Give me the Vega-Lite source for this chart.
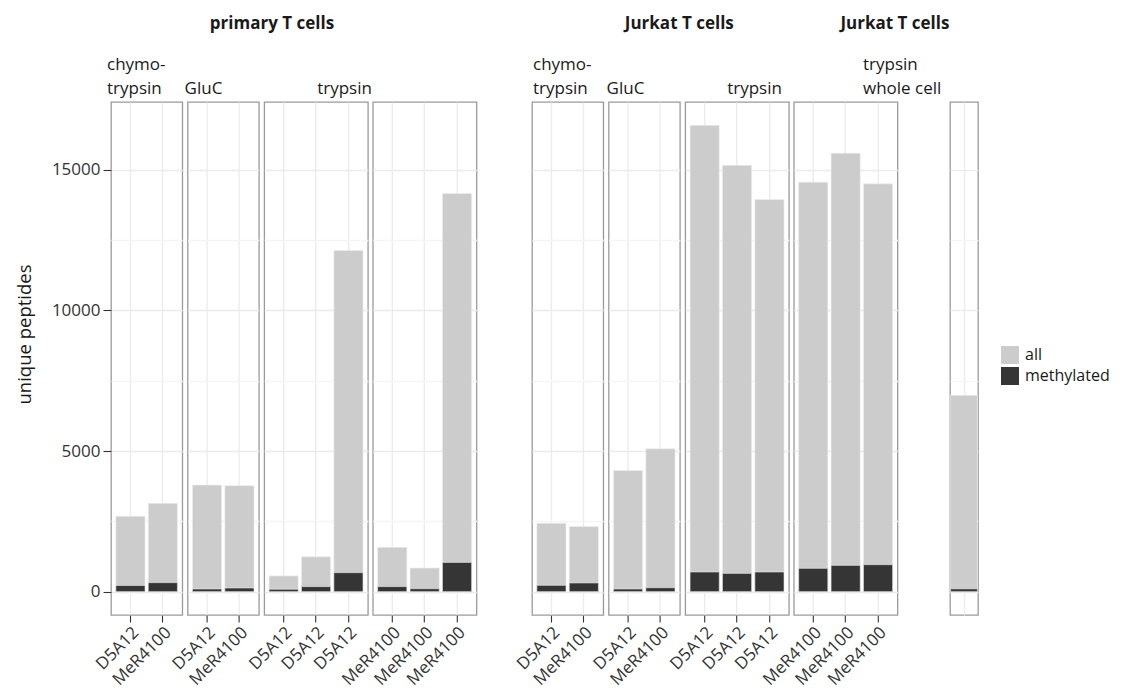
{
  "$schema": "https://vega.github.io/schema/vega-lite/v6.json",
  "padding": {"left": 14, "top": 14, "right": 5, "bottom": 5},
  "background": "white",
  "data": {"values": [
    {"panel": "P_chymo", "sample": "D5A12", "type": "all", "count": 2680},
    {"panel": "P_chymo", "sample": "D5A12", "type": "methylated", "count": 220},
    {"panel": "P_chymo", "sample": "MeR4100", "type": "all", "count": 3140},
    {"panel": "P_chymo", "sample": "MeR4100", "type": "methylated", "count": 320},
    {"panel": "P_gluc", "sample": "D5A12", "type": "all", "count": 3790},
    {"panel": "P_gluc", "sample": "D5A12", "type": "methylated", "count": 95},
    {"panel": "P_gluc", "sample": "MeR4100", "type": "all", "count": 3770},
    {"panel": "P_gluc", "sample": "MeR4100", "type": "methylated", "count": 130},
    {"panel": "P_tryD", "sample": "D5A12 1", "type": "all", "count": 560},
    {"panel": "P_tryD", "sample": "D5A12 1", "type": "methylated", "count": 85},
    {"panel": "P_tryD", "sample": "D5A12 2", "type": "all", "count": 1240},
    {"panel": "P_tryD", "sample": "D5A12 2", "type": "methylated", "count": 180},
    {"panel": "P_tryD", "sample": "D5A12 3", "type": "all", "count": 12130},
    {"panel": "P_tryD", "sample": "D5A12 3", "type": "methylated", "count": 675},
    {"panel": "P_tryM", "sample": "MeR4100 1", "type": "all", "count": 1575},
    {"panel": "P_tryM", "sample": "MeR4100 1", "type": "methylated", "count": 180},
    {"panel": "P_tryM", "sample": "MeR4100 2", "type": "all", "count": 840},
    {"panel": "P_tryM", "sample": "MeR4100 2", "type": "methylated", "count": 105},
    {"panel": "P_tryM", "sample": "MeR4100 3", "type": "all", "count": 14155},
    {"panel": "P_tryM", "sample": "MeR4100 3", "type": "methylated", "count": 1040},
    {"panel": "J_chymo", "sample": "D5A12", "type": "all", "count": 2430},
    {"panel": "J_chymo", "sample": "D5A12", "type": "methylated", "count": 225},
    {"panel": "J_chymo", "sample": "MeR4100", "type": "all", "count": 2320},
    {"panel": "J_chymo", "sample": "MeR4100", "type": "methylated", "count": 310},
    {"panel": "J_gluc", "sample": "D5A12", "type": "all", "count": 4310},
    {"panel": "J_gluc", "sample": "D5A12", "type": "methylated", "count": 95},
    {"panel": "J_gluc", "sample": "MeR4100", "type": "all", "count": 5080},
    {"panel": "J_gluc", "sample": "MeR4100", "type": "methylated", "count": 140},
    {"panel": "J_tryD", "sample": "D5A12 1", "type": "all", "count": 16580},
    {"panel": "J_tryD", "sample": "D5A12 1", "type": "methylated", "count": 700},
    {"panel": "J_tryD", "sample": "D5A12 2", "type": "all", "count": 15160},
    {"panel": "J_tryD", "sample": "D5A12 2", "type": "methylated", "count": 650},
    {"panel": "J_tryD", "sample": "D5A12 3", "type": "all", "count": 13940},
    {"panel": "J_tryD", "sample": "D5A12 3", "type": "methylated", "count": 700},
    {"panel": "J_tryM", "sample": "MeR4100 1", "type": "all", "count": 14560},
    {"panel": "J_tryM", "sample": "MeR4100 1", "type": "methylated", "count": 830},
    {"panel": "J_tryM", "sample": "MeR4100 2", "type": "all", "count": 15590},
    {"panel": "J_tryM", "sample": "MeR4100 2", "type": "methylated", "count": 935},
    {"panel": "J_tryM", "sample": "MeR4100 3", "type": "all", "count": 14500},
    {"panel": "J_tryM", "sample": "MeR4100 3", "type": "methylated", "count": 960},
    {"panel": "W", "sample": "whole cell", "type": "all", "count": 6980},
    {"panel": "W", "sample": "whole cell", "type": "methylated", "count": 100}
  ]},
  "hconcat": [
    {
      "title": {"text": ["chymo-", "trypsin"], "dx": -4},
      "width": {"step": 32.4}, "height": 513,
      "transform": [{"filter": "datum.panel == 'P_chymo'"}],
      "mark": {"type": "bar", "stroke": "#eeeeee", "strokeWidth": 0.6},
      "encoding": {
        "x": {"field": "sample", "type": "nominal", "sort": null, "scale": {"paddingInner": 0.1, "paddingOuter": 0.15}, "axis": {"labelExpr": "split(datum.value, ' ')[0]"}},
        "y": {"field": "count", "type": "quantitative", "stack": null, "scale": {"domain": [-830, 17410], "nice": false, "zero": false},
          "axis": {"title": "unique peptides", "values": [0, 2500, 5000, 7500, 10000, 12500, 15000], "format": "d",
            "labelExpr": "datum.value % 5000 === 0 ? datum.label : ''",
            "tickOpacity": {"condition": {"test": "datum.value % 5000 === 0", "value": 1}, "value": 0},
            "ticks": true, "labels": true, "tickSize": 8, "tickColor": "#333333", "tickWidth": 1.1,
            "labelFontSize": 17, "labelColor": "#333333", "labelPadding": 3,
            "titleFontSize": 18.5, "titleFontWeight": "normal", "titleColor": "#1a1a1a", "titlePadding": 17, "titleY": 232,
            "gridColor": {"condition": {"test": "datum.value % 5000 === 0", "value": "#ebebeb"}, "value": "#f5f5f5"}}},
        "y2": {"datum": 0},
        "color": {"field": "type", "type": "nominal", "scale": {"domain": ["all", "methylated"], "range": ["#cccccc", "#353535"]}, "legend": {"title": null}},
        "order": {"field": "type", "sort": "ascending"}
      }
    },
    {
      "title": {"text": "GluC", "dx": -3},
      "width": {"step": 32.4}, "height": 513,
      "transform": [{"filter": "datum.panel == 'P_gluc'"}],
      "mark": {"type": "bar", "stroke": "#eeeeee", "strokeWidth": 0.6},
      "encoding": {
        "x": {"field": "sample", "type": "nominal", "sort": null, "scale": {"paddingInner": 0.1, "paddingOuter": 0.15}, "axis": {"labelExpr": "split(datum.value, ' ')[0]"}},
        "y": {"field": "count", "type": "quantitative", "stack": null, "scale": {"domain": [-830, 17410], "nice": false, "zero": false},
          "axis": {"title": null, "values": [0, 2500, 5000, 7500, 10000, 12500, 15000], "labels": false, "ticks": false,
            "gridColor": {"condition": {"test": "datum.value % 5000 === 0", "value": "#ebebeb"}, "value": "#f5f5f5"}}},
        "y2": {"datum": 0},
        "color": {"field": "type", "type": "nominal", "scale": {"domain": ["all", "methylated"], "range": ["#cccccc", "#353535"]}, "legend": {"title": null}},
        "order": {"field": "type", "sort": "ascending"}
      }
    },
    {
      "title": {"text": "trypsin", "dx": 53},
      "width": {"step": 32.4}, "height": 513,
      "transform": [{"filter": "datum.panel == 'P_tryD'"}],
      "mark": {"type": "bar", "stroke": "#eeeeee", "strokeWidth": 0.6},
      "encoding": {
        "x": {"field": "sample", "type": "nominal", "sort": null, "scale": {"paddingInner": 0.1, "paddingOuter": 0.15}, "axis": {"labelExpr": "split(datum.value, ' ')[0]"}},
        "y": {"field": "count", "type": "quantitative", "stack": null, "scale": {"domain": [-830, 17410], "nice": false, "zero": false},
          "axis": {"title": null, "values": [0, 2500, 5000, 7500, 10000, 12500, 15000], "labels": false, "ticks": false,
            "gridColor": {"condition": {"test": "datum.value % 5000 === 0", "value": "#ebebeb"}, "value": "#f5f5f5"}}},
        "y2": {"datum": 0},
        "color": {"field": "type", "type": "nominal", "scale": {"domain": ["all", "methylated"], "range": ["#cccccc", "#353535"]}, "legend": {"title": null}},
        "order": {"field": "type", "sort": "ascending"}
      }
    },
    {
      "title": {"text": "primary T cells", "fontWeight": "bold", "fontSize": 17, "dx": -163, "offset": 69},
      "width": {"step": 32.4}, "height": 513,
      "transform": [{"filter": "datum.panel == 'P_tryM'"}],
      "mark": {"type": "bar", "stroke": "#eeeeee", "strokeWidth": 0.6},
      "encoding": {
        "x": {"field": "sample", "type": "nominal", "sort": null, "scale": {"paddingInner": 0.1, "paddingOuter": 0.15}, "axis": {"labelExpr": "split(datum.value, ' ')[0]"}},
        "y": {"field": "count", "type": "quantitative", "stack": null, "scale": {"domain": [-830, 17410], "nice": false, "zero": false},
          "axis": {"title": null, "values": [0, 2500, 5000, 7500, 10000, 12500, 15000], "labels": false, "ticks": false,
            "gridColor": {"condition": {"test": "datum.value % 5000 === 0", "value": "#ebebeb"}, "value": "#f5f5f5"}}},
        "y2": {"datum": 0},
        "color": {"field": "type", "type": "nominal", "scale": {"domain": ["all", "methylated"], "range": ["#cccccc", "#353535"]}, "legend": {"title": null}},
        "order": {"field": "type", "sort": "ascending"}
      }
    },
    {
      "width": 45.8, "height": 513,
      "data": {"values": []},
      "mark": "point",
      "encoding": {},
      "view": {"stroke": null}
    },
    {
      "title": {"text": ["chymo-", "trypsin"], "dx": 1},
      "width": {"step": 32.4}, "height": 513,
      "transform": [{"filter": "datum.panel == 'J_chymo'"}],
      "mark": {"type": "bar", "stroke": "#eeeeee", "strokeWidth": 0.6},
      "encoding": {
        "x": {"field": "sample", "type": "nominal", "sort": null, "scale": {"paddingInner": 0.1, "paddingOuter": 0.15}, "axis": {"labelExpr": "split(datum.value, ' ')[0]"}},
        "y": {"field": "count", "type": "quantitative", "stack": null, "scale": {"domain": [-830, 17410], "nice": false, "zero": false},
          "axis": {"title": null, "values": [0, 2500, 5000, 7500, 10000, 12500, 15000], "labels": false, "ticks": false,
            "gridColor": {"condition": {"test": "datum.value % 5000 === 0", "value": "#ebebeb"}, "value": "#f5f5f5"}}},
        "y2": {"datum": 0},
        "color": {"field": "type", "type": "nominal", "scale": {"domain": ["all", "methylated"], "range": ["#cccccc", "#353535"]}, "legend": {"title": null}},
        "order": {"field": "type", "sort": "ascending"}
      }
    },
    {
      "title": {"text": "GluC", "dx": -2},
      "width": {"step": 32.4}, "height": 513,
      "transform": [{"filter": "datum.panel == 'J_gluc'"}],
      "mark": {"type": "bar", "stroke": "#eeeeee", "strokeWidth": 0.6},
      "encoding": {
        "x": {"field": "sample", "type": "nominal", "sort": null, "scale": {"paddingInner": 0.1, "paddingOuter": 0.15}, "axis": {"labelExpr": "split(datum.value, ' ')[0]"}},
        "y": {"field": "count", "type": "quantitative", "stack": null, "scale": {"domain": [-830, 17410], "nice": false, "zero": false},
          "axis": {"title": null, "values": [0, 2500, 5000, 7500, 10000, 12500, 15000], "labels": false, "ticks": false,
            "gridColor": {"condition": {"test": "datum.value % 5000 === 0", "value": "#ebebeb"}, "value": "#f5f5f5"}}},
        "y2": {"datum": 0},
        "color": {"field": "type", "type": "nominal", "scale": {"domain": ["all", "methylated"], "range": ["#cccccc", "#353535"]}, "legend": {"title": null}},
        "order": {"field": "type", "sort": "ascending"}
      }
    },
    {
      "title": {"text": "trypsin", "dx": 42},
      "width": {"step": 32.4}, "height": 513,
      "transform": [{"filter": "datum.panel == 'J_tryD'"}],
      "mark": {"type": "bar", "stroke": "#eeeeee", "strokeWidth": 0.6},
      "encoding": {
        "x": {"field": "sample", "type": "nominal", "sort": null, "scale": {"paddingInner": 0.1, "paddingOuter": 0.15}, "axis": {"labelExpr": "split(datum.value, ' ')[0]"}},
        "y": {"field": "count", "type": "quantitative", "stack": null, "scale": {"domain": [-830, 17410], "nice": false, "zero": false},
          "axis": {"title": null, "values": [0, 2500, 5000, 7500, 10000, 12500, 15000], "labels": false, "ticks": false,
            "gridColor": {"condition": {"test": "datum.value % 5000 === 0", "value": "#ebebeb"}, "value": "#f5f5f5"}}},
        "y2": {"datum": 0},
        "color": {"field": "type", "type": "nominal", "scale": {"domain": ["all", "methylated"], "range": ["#cccccc", "#353535"]}, "legend": {"title": null}},
        "order": {"field": "type", "sort": "ascending"}
      }
    },
    {
      "title": {"text": "Jurkat T cells", "fontWeight": "bold", "fontSize": 17, "dx": -169, "offset": 69},
      "width": {"step": 32.4}, "height": 513,
      "transform": [{"filter": "datum.panel == 'J_tryM'"}],
      "mark": {"type": "bar", "stroke": "#eeeeee", "strokeWidth": 0.6},
      "encoding": {
        "x": {"field": "sample", "type": "nominal", "sort": null, "scale": {"paddingInner": 0.1, "paddingOuter": 0.15}, "axis": {"labelExpr": "split(datum.value, ' ')[0]"}},
        "y": {"field": "count", "type": "quantitative", "stack": null, "scale": {"domain": [-830, 17410], "nice": false, "zero": false},
          "axis": {"title": null, "values": [0, 2500, 5000, 7500, 10000, 12500, 15000], "labels": false, "ticks": false,
            "gridColor": {"condition": {"test": "datum.value % 5000 === 0", "value": "#ebebeb"}, "value": "#f5f5f5"}}},
        "y2": {"datum": 0},
        "color": {"field": "type", "type": "nominal", "scale": {"domain": ["all", "methylated"], "range": ["#cccccc", "#353535"]}, "legend": {"title": null}},
        "order": {"field": "type", "sort": "ascending"}
      }
    },
    {
      "title": {"text": "Jurkat T cells", "fontWeight": "bold", "fontSize": 17, "dx": -62, "offset": 69},
      "width": 42.8, "height": 513,
      "data": {"values": []},
      "mark": "point",
      "encoding": {},
      "view": {"stroke": null}
    },
    {
      "title": {"text": ["trypsin", "whole cell"], "dx": -87},
      "width": 28, "height": 513,
      "transform": [{"filter": "datum.panel == 'W'"}],
      "mark": {"type": "bar", "stroke": "#eeeeee", "strokeWidth": 0.6},
      "encoding": {
        "x": {"field": "sample", "type": "nominal", "sort": null, "scale": {"paddingInner": 0.05, "paddingOuter": 0.02},
          "axis": {"labels": false, "ticks": false}},
        "y": {"field": "count", "type": "quantitative", "stack": null, "scale": {"domain": [-830, 17410], "nice": false, "zero": false},
          "axis": {"title": null, "values": [0, 2500, 5000, 7500, 10000, 12500, 15000], "labels": false, "ticks": false,
            "gridColor": {"condition": {"test": "datum.value % 5000 === 0", "value": "#ebebeb"}, "value": "#f5f5f5"}}},
        "y2": {"datum": 0},
        "color": {"field": "type", "type": "nominal", "scale": {"domain": ["all", "methylated"], "range": ["#cccccc", "#353535"]}, "legend": {"title": null}},
        "order": {"field": "type", "sort": "ascending"}
      }
    }
  ],
  "spacing": 4.6,
  "bounds": "flush",
  "resolve": {"scale": {"x": "independent", "y": "independent", "color": "shared"}},
  "config": {
    "font": "Open Sans",
    "view": {"stroke": "#9a9a9a", "strokeWidth": 1.3},
    "axis": {"domain": false, "grid": true, "gridWidth": 1.3},
    "axisX": {"title": null, "labelAngle": -45, "labelFontSize": 17, "labelColor": "#333333", "tickSize": 7, "tickColor": "#333333", "tickWidth": 1.1, "gridColor": "#ebebeb", "bandPosition": 0.5, "labelPadding": 2},
    "title": {"fontSize": 17, "fontWeight": "normal", "anchor": "start", "frame": "group", "offset": 4, "lineHeight": 24, "color": "#1a1a1a"},
    "legend": {"orient": "none", "legendX": 890, "legendY": 244, "symbolType": "square", "symbolSize": 324, "symbolStrokeWidth": 0, "symbolOpacity": 1, "labelFontSize": 16, "labelColor": "#1a1a1a", "rowPadding": 3, "labelOffset": 6}
  }
}
